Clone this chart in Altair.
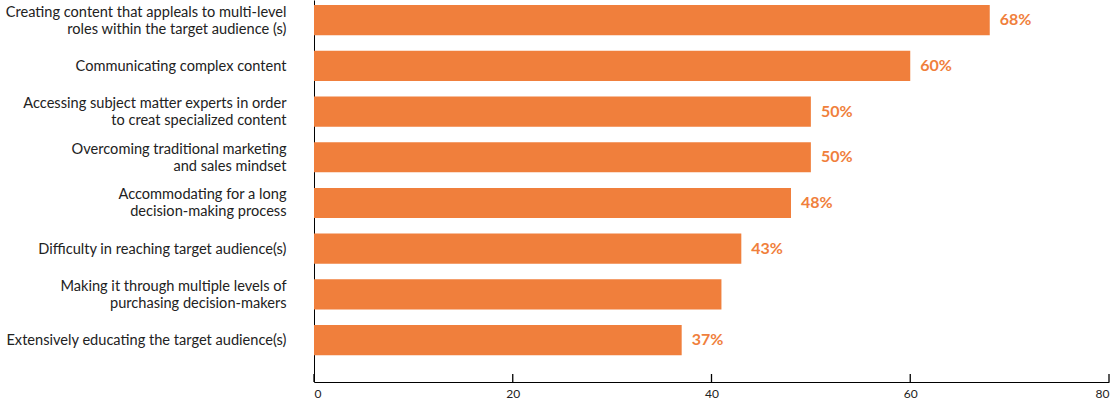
import altair as alt
import pandas as pd

categories = [
    "Creating content that appleals to multi-level|roles within the target audience (s)",
    "Communicating complex content",
    "Accessing subject matter experts in order|to creat specialized content",
    "Overcoming traditional marketing|and sales mindset",
    "Accommodating for a long|decision-making process",
    "Difficulty in reaching target audience(s)",
    "Making it through multiple levels of|purchasing decision-makers",
    "Extensively educating the target audience(s)",
]
values = [68, 60, 50, 50, 48, 43, 41, 37]
labels = ["68%", "60%", "50%", "50%", "48%", "43%", "", "37%"]
tick_values = [0, 20, 40, 60, 80]

df = pd.DataFrame({"cat": categories, "value": values, "label": labels})
ticks_df = pd.DataFrame({"value": tick_values})

ORANGE = "#F07F3C"
FONT = "Lato"

y = alt.Y(
    "cat:N",
    sort=categories,
    title=None,
    scale=alt.Scale(paddingInner=0.34, paddingOuter=0.35, align=0.16),
    axis=alt.Axis(
        labelExpr="split(datum.label, '|')",
        labelFont=FONT,
        labelFontSize=14.6,
        labelColor="#222222",
        labelPadding=28,
        ticks=False,
        domainColor="#000000",
        domainWidth=1,
        labelLimit=400,
        labelLineHeight=17,
        labelOffset={"condition": {"test": "indexof(datum.label, '|') >= 0", "value": -7.5}, "value": 1},
    ),
)
x = alt.X(
    "value:Q",
    title=None,
    scale=alt.Scale(domain=[0, 80], nice=False),
    axis=alt.Axis(
        values=tick_values,
        grid=False,
        ticks=False,
        labelFont=FONT,
        labelFontSize=12,
        labelColor="#222222",
        labelPadding=6,
        domainColor="#000000",
        domainWidth=1.2,
    ),
)

rule_ticks = alt.Chart(ticks_df).mark_rule(color="#000000", strokeWidth=1.3).encode(
    x=alt.X("value:Q"), y=alt.value(374), y2=alt.value(382)
)
bars = alt.Chart(df).mark_bar(color=ORANGE).encode(x=x, y=y)
text = alt.Chart(df).mark_text(
    align="left", baseline="middle", dx=10, font=FONT, fontSize=16,
    fontWeight="bold", color=ORANGE
).encode(x="value:Q", y=alt.Y("cat:N", sort=categories), text="label:N")

chart = alt.layer(bars, text, rule_ticks).properties(
    width=795,
    height=382,
    autosize=alt.AutoSizeParams(type="none"),
    padding={"left": 314, "top": 0, "right": 11, "bottom": 22},
).configure_view(stroke=None)

chart.save("out.html", embed_options={"renderer": "svg", "actions": False})
